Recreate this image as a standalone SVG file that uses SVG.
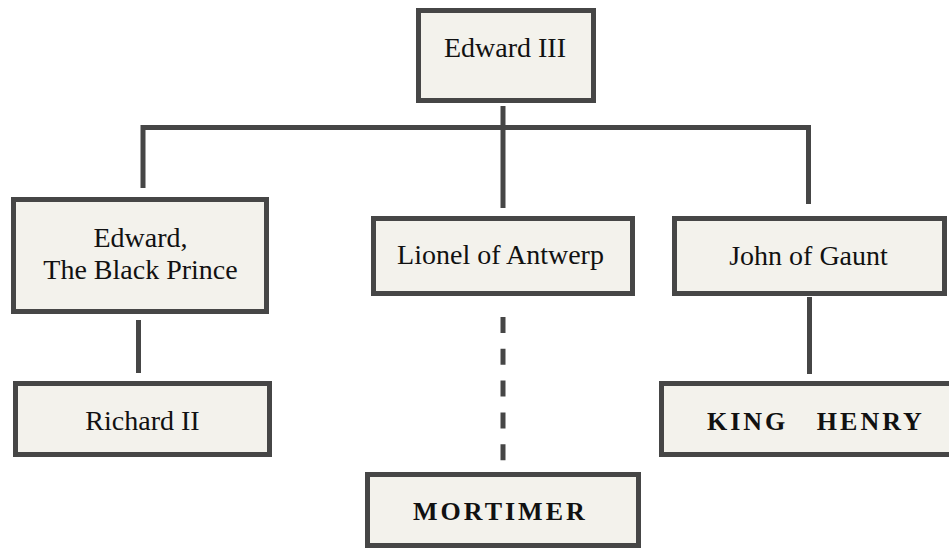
<svg xmlns="http://www.w3.org/2000/svg" width="949" height="548" viewBox="0 0 949 548">
<style>
.box{fill:#f3f2ec;stroke:#464646;stroke-width:5}
.t{font-family:'Liberation Serif','Times New Roman','DejaVu Serif',serif;font-size:28px;fill:#111;text-anchor:middle}
.b{font-family:'Liberation Serif','Times New Roman','DejaVu Serif',serif;font-size:26px;font-weight:bold;fill:#111;letter-spacing:3px;white-space:pre}
.c{fill:none;stroke:#464646;stroke-width:5;stroke-linecap:butt;stroke-linejoin:miter}
</style>
<rect width="949" height="548" fill="#ffffff"/>
<g id="connectors">
<path class="c" d="M503,106 V208"/>
<path class="c" d="M143,188 V127.5 H808.5 V204"/>
<path class="c" d="M138.5,320 V373"/>
<path class="c" d="M809.5,297 V374"/>
<path class="c" d="M503,317 V461" stroke-dasharray="16 15.8"/>
</g>
<g id="edward3">
<rect class="box" x="418.5" y="10.5" width="175" height="90"/>
<text class="t" x="505" y="57" font-family="Liberation Serif, serif">Edward III</text>
</g>
<g id="blackprince">
<rect class="box" x="13.5" y="199.5" width="253" height="112"/>
<text class="t" x="140.5" y="247">Edward,</text>
<text class="t" x="140.5" y="279">The Black Prince</text>
</g>
<g id="lionel">
<rect class="box" x="373.5" y="218.5" width="259" height="75"/>
<text class="t" x="500.5" y="264">Lionel of Antwerp</text>
</g>
<g id="gaunt">
<rect class="box" x="674.5" y="218.5" width="270" height="75"/>
<text class="t" x="808.5" y="265">John of Gaunt</text>
</g>
<g id="richard2">
<rect class="box" x="15.5" y="383.5" width="254" height="71"/>
<text class="t" x="142.5" y="430">Richard II</text>
</g>
<g id="kinghenry">
<rect class="box" x="661.5" y="383.5" width="320" height="71"/>
<text class="b" x="707" y="430">KING   HENRY</text>
</g>
<g id="mortimer">
<rect class="box" x="367.5" y="474.5" width="271" height="71"/>
<text class="b" x="413" y="520">MORTIMER</text>
</g>
</svg>
